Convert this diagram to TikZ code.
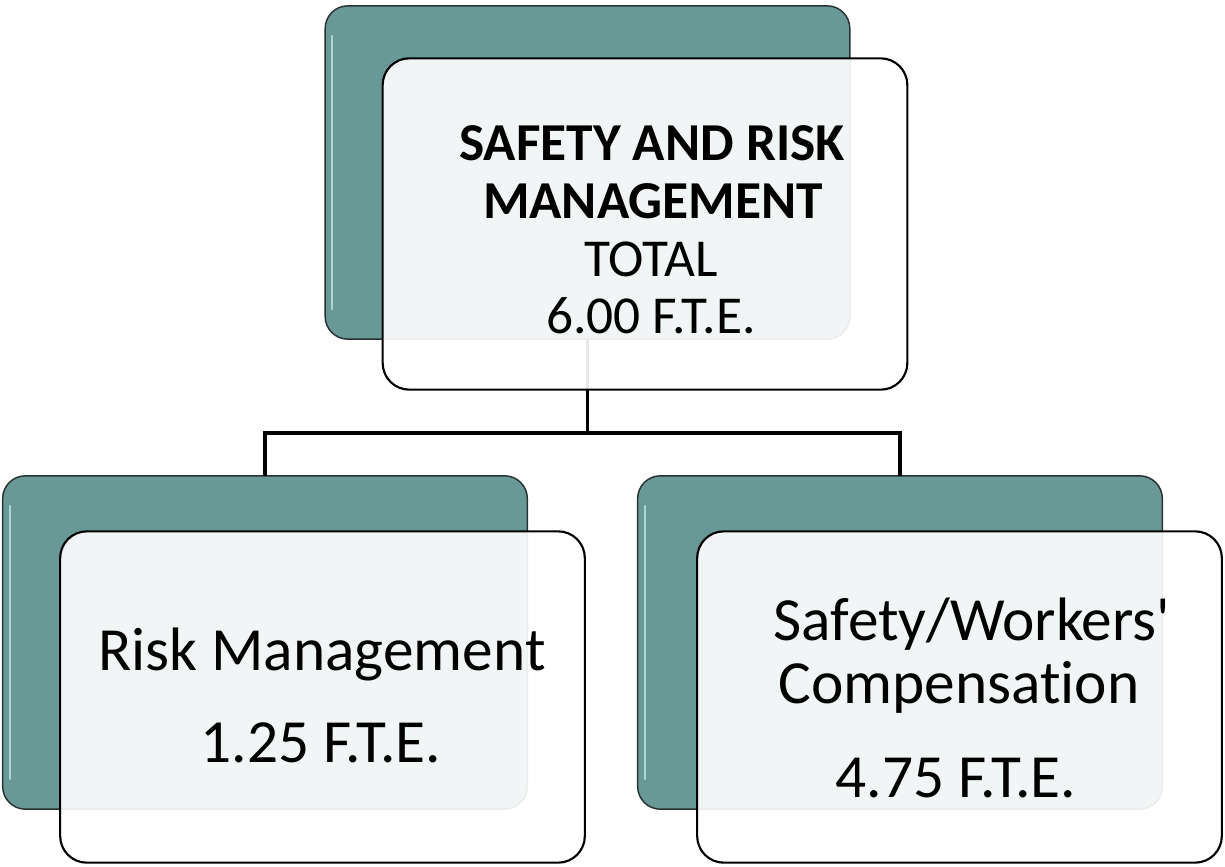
\documentclass[tikz,border=0pt]{standalone}
\usepackage{fontspec}
\setmainfont{Carlito}[Ligatures={NoCommon,TeXOff}]
\definecolor{teal1}{RGB}{104,153,151}
\definecolor{gloss}{RGB}{190,228,228}
\definecolor{edgegray}{RGB}{40,50,50}
\tikzset{
  backbox/.style={draw=edgegray, line width=1.1pt, fill=teal1, rounded corners=17pt,
    minimum width=393.5pt, minimum height=250pt, inner sep=0pt, outer sep=0pt},
  frontbox/.style={draw=black, line width=1.6pt, fill=white, fill opacity=0.91,
    rounded corners=20pt, minimum width=393.5pt, minimum height=248.5pt, inner sep=0pt, outer sep=0pt},
  conn/.style={draw=black, line width=2.6pt},
  glossline/.style={draw=gloss, line width=1.6pt, line cap=round, opacity=0.8},
  toptxt/.style={anchor=base, font=\fontsize{40pt}{46pt}\selectfont, inner sep=0pt},
  bigtxt/.style={anchor=base, font=\fontsize{46pt}{54pt}\selectfont, inner sep=0pt},
}
\begin{document}
\begin{tikzpicture}[x=0.75pt, y=-0.75pt]
\useasboundingbox (0,0) rectangle (1225,867);
% back boxes
\node[backbox] (b0) at (587.5,172.5) {};
\node[backbox] (b1) at (265,642.5) {};
\node[backbox] (b2) at (900,642.5) {};
% gloss highlights
\foreach \n in {b0,b1,b2}{
  \draw[glossline] ([shift={(7,-30)}]\n.south west) -- ([shift={(7,30)}]\n.north west);
}
% connectors
\coordinate (bus) at (0,433);
\draw[conn] (b0.south) -- (b0.south |- bus);
\draw[conn] (b1.north) |- (b0.south |- bus) -| (b2.north);
% front boxes
\node[frontbox] (f0) at (645,224) {};
\node[frontbox] (f1) at (322.5,697) {};
\node[frontbox] (f2) at (959.5,697) {};
% texts
\node[toptxt] (t0a) at (652,161) {\bfseries SAFETY AND RISK};
\node[toptxt] (t0b) at (653,218) {\bfseries MANAGEMENT};
\node[toptxt] (t0c) at (651,276) {TOTAL};
\node[toptxt] (t0d) at (651,333) {6.00 F.T.E.};
\node[bigtxt] (t1a) at (322,670) {Risk Management};
\node[bigtxt] (t1b) at (321,762) {1.25 F.T.E.};
\node[bigtxt] (t2a) at (972,640) {Safety/Workers'};
\node[bigtxt] (t2b) at (959,703) {Compensation};
\node[bigtxt] (t2c) at (956,797) {4.75 F.T.E.};
\end{tikzpicture}
\end{document}
